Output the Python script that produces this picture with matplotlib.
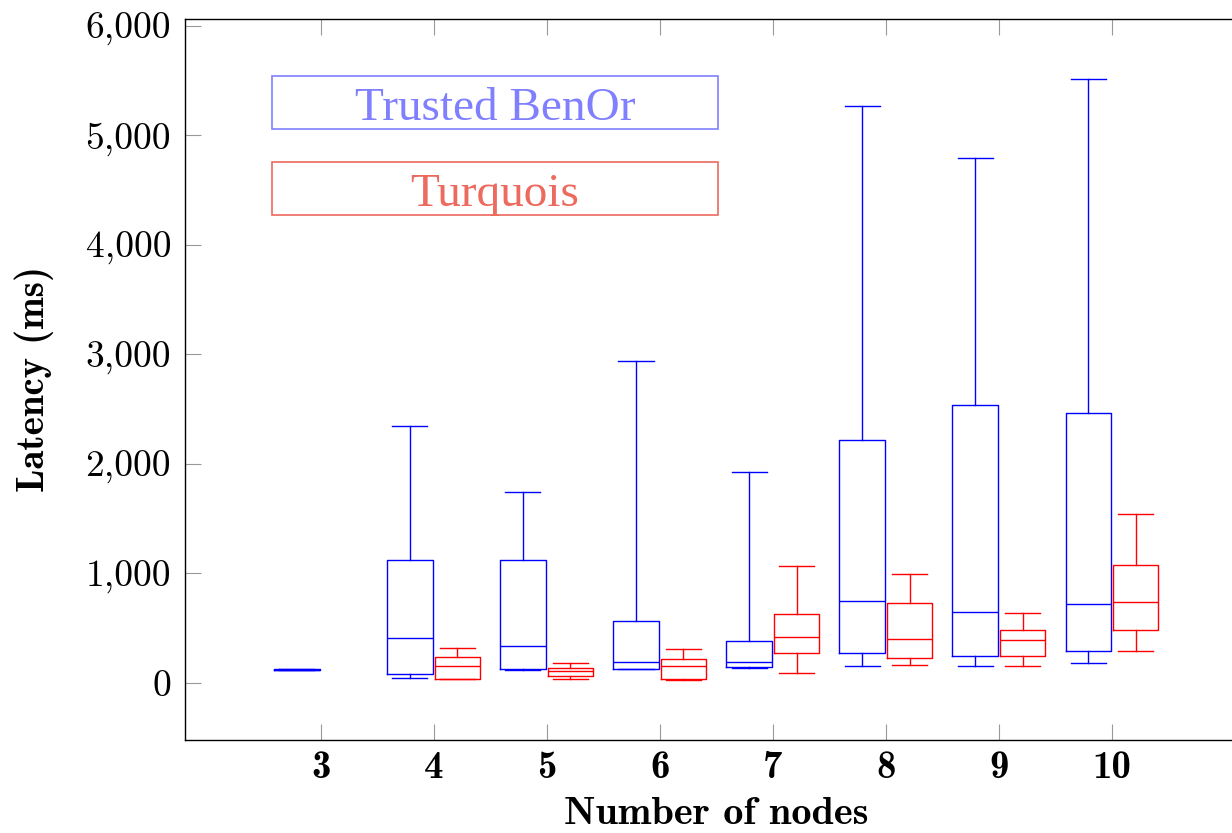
import matplotlib
matplotlib.use("Agg")
import matplotlib.pyplot as plt
from matplotlib.patches import Rectangle

nodes = [3, 4, 5, 6, 7, 8, 9, 10]

# Trusted BenOr (blue)
ben_lo = [112, 43, 119, 126, 134, 155, 149, 180]
ben_q1 = [115, 82, 122, 128, 146, 274, 247, 289]
ben_med = [119, 411, 333, 186, 186, 746, 645, 715]
ben_q3 = [124, 1123, 1123, 561, 378, 2219, 2536, 2468]
ben_hi = [128, 2347, 1744, 2941, 1928, 5269, 4795, 5516]

# Turquois (red), no data for 3 nodes
tq_nodes = [4, 5, 6, 7, 8, 9, 10]
tq_lo = [30, 34, 25, 85, 164, 149, 292]
tq_q1 = [37, 61, 37, 274, 228, 244, 478]
tq_med = [155, 110, 153, 417, 399, 387, 737]
tq_q3 = [232, 137, 219, 630, 731, 478, 1071]
tq_hi = [320, 183, 311, 1068, 989, 633, 1543]


def stats(lo, q1, med, q3, hi):
    return [dict(whislo=a, q1=b, med=c, q3=d, whishi=e, fliers=[])
            for a, b, c, d, e in zip(lo, q1, med, q3, hi)]


fig = plt.figure(figsize=(12.32, 8.33), dpi=100)
ax = fig.add_axes([185 / 1232, 93 / 833, 1062.5 / 1232, 721 / 833])


def draw(st, pos, col):
    ax.bxp(st, positions=pos, widths=0.4, capwidths=0.31, showfliers=False,
           boxprops=dict(color=col, lw=1.0),
           whiskerprops=dict(color=col, lw=1.0),
           capprops=dict(color=col, lw=1.0),
           medianprops=dict(color=col, lw=1.0),
           manage_ticks=False)


draw(stats(ben_lo, ben_q1, ben_med, ben_q3, ben_hi),
     [n - 0.21 for n in nodes], 'blue')
draw(stats(tq_lo, tq_q1, tq_med, tq_q3, tq_hi),
     [n + 0.21 for n in tq_nodes], 'red')

ax.set_xlim(1.8, 11.2)
ax.set_ylim(-524, 6064)

ax.set_xticks(nodes)
ax.set_xticklabels([str(n) for n in nodes], fontsize=28, family='cmb10')
yt = [0, 1000, 2000, 3000, 4000, 5000, 6000]
ax.set_yticks(yt)
ax.set_yticklabels(['{:,}'.format(v) for v in yt], fontsize=27, family='cmr10')
ax.tick_params(direction='in', length=11.5, width=0.8, color='#999999',
               top=True, right=True)
ax.tick_params(axis='y', pad=10)
ax.tick_params(axis='x', pad=8)

for s in ax.spines.values():
    s.set_linewidth(1.0)

ax.set_xlabel('Number of nodes', fontsize=29, family='cmb10', labelpad=8)
ax.set_ylabel('Latency (ms)', fontsize=28, family='cmb10', labelpad=23)

# legend entries drawn as framed labels
leg = [('Trusted BenOr', '#8080ff', 0.8842, 0.8599),
       ('Turquois', '#ec6a5e', 0.7651, 0.7411)]
for txt, col, yc, yb in leg:
    ax.add_patch(Rectangle((0.0819, yc - 0.0371), 0.4198, 0.0742,
                           transform=ax.transAxes, fill=False,
                           edgecolor=col, lw=1.2))
    ax.text(0.2918, yb, txt, transform=ax.transAxes, ha='center', va='baseline',
            color=col, fontsize=34, family='Liberation Serif')

fig.savefig('out.png', dpi=100)
